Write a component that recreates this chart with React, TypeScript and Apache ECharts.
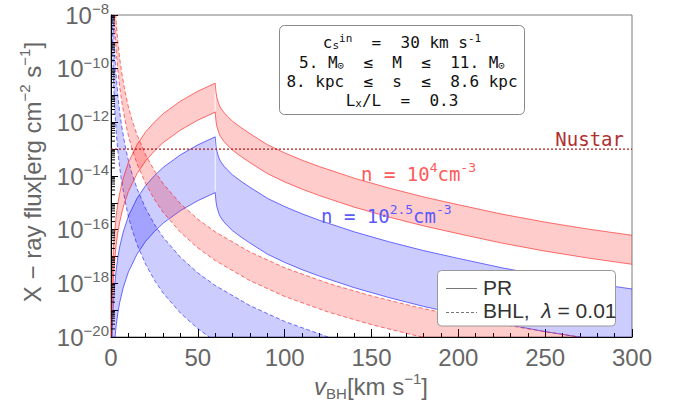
import React, { useEffect, useRef } from 'react';
import * as echarts from 'echarts';

// ---------- data (log10 of X-ray flux, erg cm^-2 s^-1) ----------
// PR model: velocities (km/s)
const prV = [0.1, 0.2, 0.3, 0.5, 0.75, 1, 1.5, 2, 3, 4, 5, 7, 10, 15, 20, 25, 30, 40, 50, 60,
  60.5, 61, 62, 63, 65, 67, 70, 75, 80, 90, 100, 110, 120, 140, 160, 180, 200, 225, 250, 275, 300];

// n = 10^4 cm^-3, PR
const redPrUpper = [-21.10, -19.95, -19.28, -18.44, -17.77, -17.30, -16.63, -16.15, -15.48, -15.01, -14.64, -14.09, -13.50, -12.83, -12.35, -11.99, -11.68, -11.21, -10.84, -10.54,
  -10.90, -11.08, -11.30, -11.45, -11.63, -11.77, -11.96, -12.20, -12.42, -12.83, -13.14, -13.41, -13.65, -14.08, -14.45, -14.78, -15.07, -15.42, -15.72, -15.98, -16.21];
const redPrLower = [-22.18, -21.03, -20.36, -19.52, -18.85, -18.38, -17.71, -17.23, -16.56, -16.09, -15.72, -15.17, -14.58, -13.91, -13.43, -13.07, -12.76, -12.29, -11.92, -11.62,
  -11.98, -12.16, -12.38, -12.53, -12.71, -12.85, -13.04, -13.28, -13.50, -13.91, -14.22, -14.49, -14.73, -15.16, -15.53, -15.86, -16.15, -16.50, -16.80, -17.06, -17.29];

// n = 10^2.5 cm^-3, PR
const bluePrUpper = [-23.10, -21.95, -21.28, -20.44, -19.77, -19.30, -18.63, -18.15, -17.48, -17.01, -16.64, -16.09, -15.50, -14.83, -14.35, -13.99, -13.68, -13.21, -12.84, -12.54,
  -12.90, -13.08, -13.30, -13.45, -13.63, -13.77, -13.96, -14.20, -14.42, -14.83, -15.14, -15.41, -15.65, -16.08, -16.45, -16.78, -17.07, -17.42, -17.72, -17.98, -18.21];
const bluePrLower = [-25.18, -24.03, -23.36, -22.52, -21.85, -21.38, -20.71, -20.23, -19.56, -19.09, -18.72, -18.17, -17.58, -16.91, -16.43, -16.07, -15.76, -15.29, -14.92, -14.62,
  -14.98, -15.16, -15.38, -15.53, -15.71, -15.85, -16.04, -16.28, -16.50, -16.91, -17.22, -17.49, -17.73, -18.16, -18.53, -18.86, -19.15, -19.50, -19.80, -20.06, -20.29];

// BHL model (lambda = 0.01)
const bhlV = [0.5, 0.75, 1, 1.5, 2, 2.5, 3, 4, 5, 6, 8, 10, 12, 15, 20, 25, 30, 40, 50, 60, 80, 100, 125, 150, 175, 200, 225, 250, 275, 300];
const redBhlUpper = [-3.61, -4.67, -5.42, -6.47, -7.22, -7.80, -8.28, -9.03, -9.61, -10.08, -10.83, -11.42, -11.89, -12.47, -13.22, -13.80, -14.28, -15.03, -15.61, -16.08, -16.83, -17.42, -18.00, -18.47, -18.87, -19.22, -19.53, -19.80, -20.05, -20.28];
const redBhlLower = [-4.68, -5.74, -6.49, -7.54, -8.29, -8.87, -9.35, -10.10, -10.68, -11.15, -11.90, -12.49, -12.96, -13.54, -14.29, -14.87, -15.35, -16.10, -16.68, -17.15, -17.90, -18.49, -19.07, -19.54, -19.94, -20.29, -20.60, -20.87, -21.12, -21.35];
const blueBhlUpper = [-5.61, -6.67, -7.42, -8.47, -9.22, -9.80, -10.28, -11.03, -11.61, -12.08, -12.83, -13.42, -13.89, -14.47, -15.22, -15.80, -16.28, -17.03, -17.61, -18.08, -18.83, -19.42, -20.00, -20.47, -20.87, -21.22, -21.53, -21.80, -22.05, -22.28];
const blueBhlLower = [-7.69, -8.75, -9.50, -10.55, -11.30, -11.88, -12.36, -13.11, -13.69, -14.16, -14.91, -15.50, -15.97, -16.55, -17.30, -17.88, -18.36, -19.11, -19.69, -20.16, -20.91, -21.50, -22.08, -22.55, -22.95, -23.30, -23.61, -23.88, -24.13, -24.36];

const prKinkV = 60;
const nustarLevel = 1e-13;
const nustarX = [0, 300];

const xTicks = { min: 0, max: 300, interval: 50 };
const yExpMin = -20;
const yExpMax = -8;

// ---------- helpers ----------
const GRAY = '#666666';
const SANS = 'Liberation Sans';
const MONO = 'DejaVu Sans Mono';

function band(xs: number[], up: number[], lo: number[], fill: string, stroke: string, dashed: boolean, seamX?: number) {
  return {
    type: 'custom',
    coordinateSystem: 'cartesian2d',
    clip: true,
    silent: true,
    data: [[150, 1e-14]],
    renderItem: (params: any, api: any) => {
      const pu = xs.map((x, i) => api.coord([x, Math.pow(10, up[i])]));
      const pl = xs.map((x, i) => api.coord([x, Math.pow(10, lo[i])]));
      const dash = dashed ? [4, 2.5] : null;
      const children: any[] = [
        { type: 'polygon', shape: { points: pu.concat(pl.slice().reverse()) }, style: { fill, stroke: null } },
      ];
      if (seamX != null) {
        const k = xs.indexOf(seamX);
        children.push({ type: 'line', shape: { x1: pu[k][0], y1: pu[k][1] + 1, x2: pl[k][0], y2: pl[k][1] - 1 }, style: { stroke: 'rgba(255,255,255,0.9)', lineWidth: 1 } });
      }
      children.push({ type: 'polyline', shape: { points: pu }, style: { stroke, lineWidth: 1, fill: null, lineDash: dash } });
      children.push({ type: 'polyline', shape: { points: pl }, style: { stroke, lineWidth: 1, fill: null, lineDash: dash } });
      return { type: 'group', children };
    },
  };
}

const minorTickVals: number[][] = [];
for (let e = yExpMin; e < yExpMax; e++) {
  for (let k = 2; k <= 9; k++) minorTickVals.push([0, k * Math.pow(10, e)]);
}

export default function App() {
  const ref = useRef<HTMLDivElement>(null);
  useEffect(() => {
    const chart = echarts.init(ref.current!, null, { renderer: 'svg' });
    const redFill = 'rgba(255,0,0,0.2)';
    const redLine = 'rgba(255,0,0,0.55)';
    const blueFill = 'rgba(0,0,255,0.2)';
    const blueLine = 'rgba(0,0,255,0.55)';

    const boxRich = {
      b: { fontSize: 16, fontFamily: MONO, lineHeight: 18, verticalAlign: 'middle' },
      sup: { fontSize: 11, fontFamily: MONO, lineHeight: 10, verticalAlign: 'top' },
      sub: { fontSize: 11, fontFamily: MONO, lineHeight: 10, verticalAlign: 'bottom' },
    };
    const labelRich = {
      b: { fontSize: 19, fontFamily: MONO, lineHeight: 26, verticalAlign: 'middle' },
      sup: { fontSize: 13, fontFamily: MONO, lineHeight: 14, verticalAlign: 'top' },
    };
    const center = { align: 'center', verticalAlign: 'middle', textAlign: 'center', textVerticalAlign: 'middle' };
    const leftMid = { align: 'left', verticalAlign: 'middle', textAlign: 'left', textVerticalAlign: 'middle' };

    const option: any = {
      animation: false,
      grid: { left: 111, right: 43, top: 15, bottom: 71, show: true, borderColor: '#7a7a7a', borderWidth: 1, backgroundColor: 'transparent' },
      xAxis: {
        type: 'value', min: xTicks.min, max: xTicks.max, interval: xTicks.interval,
        axisLine: { show: true, onZero: false, lineStyle: { color: '#000', width: 1 } },
        axisTick: { show: true, inside: true, length: 8, lineStyle: { color: '#000' } },
        minorTick: { show: true, splitNumber: 5, length: 4, lineStyle: { color: '#000' } },
        axisLabel: { color: GRAY, fontSize: 24, fontFamily: SANS, margin: 8 },
        splitLine: { show: false },
      },
      yAxis: {
        type: 'log', logBase: 10, min: Math.pow(10, yExpMin), max: Math.pow(10, yExpMax), interval: 1,
        axisLine: { show: true, lineStyle: { color: '#000', width: 1 } },
        axisTick: { show: true, inside: true, length: 7, lineStyle: { color: '#000' } },
        axisLabel: {
          margin: 2,
          formatter: (v: number) => {
            const e = Math.round(Math.log10(v));
            if (e % 2 !== 0) return '';
            return '{b|10}{s|\u2212' + (-e) + '}';
          },
          rich: {
            b: { fontSize: 24, fontFamily: SANS, color: GRAY, lineHeight: 28, verticalAlign: 'middle' },
            s: { fontSize: 15, fontFamily: SANS, color: GRAY, lineHeight: 15, verticalAlign: 'top' },
          },
        },
        splitLine: { show: false },
      },
      series: [
        band(bhlV, blueBhlUpper, blueBhlLower, blueFill, blueLine, true),
        band(prV, bluePrUpper, bluePrLower, blueFill, blueLine, false, prKinkV),
        band(bhlV, redBhlUpper, redBhlLower, redFill, redLine, true),
        band(prV, redPrUpper, redPrLower, redFill, redLine, false, prKinkV),
        {
          type: 'line', silent: true, symbol: 'none',
          data: nustarX.map((x) => [x, nustarLevel]),
          lineStyle: { color: '#b01818', width: 1.2, type: [2, 2] },
        },
        {
          type: 'custom', coordinateSystem: 'cartesian2d', silent: true, clip: false,
          data: minorTickVals,
          renderItem: (params: any, api: any) => {
            const p = api.coord([api.value(0), api.value(1)]);
            return { type: 'line', shape: { x1: p[0], y1: p[1], x2: p[0] + 4, y2: p[1] }, style: { stroke: '#000', lineWidth: 1 } };
          },
        },
      ],
      graphic: [
        // parameter box
        { type: 'rect', shape: { x: 279.5, y: 25.5, width: 245, height: 89, r: 5 }, style: { fill: '#fff', stroke: '#888', lineWidth: 1 }, z: 10 },
        { type: 'text', x: 402, y: 42, z: 11, style: { text: '{b|c}{sub|s}{sup|in}{b|  =  30 km s}{sup|-1}', ...center, fill: '#111', rich: boxRich } },
        { type: 'text', x: 402, y: 62, z: 11, style: { text: '{b|5. M}{sub|\u2299}{b|  \u2264  M  \u2264  11. M}{sub|\u2299}', ...center, fill: '#111', rich: boxRich } },
        { type: 'text', x: 402, y: 81, z: 11, style: { text: '{b|8. kpc  \u2264  s  \u2264  8.6 kpc}', ...center, fill: '#111', rich: boxRich } },
        { type: 'text', x: 402, y: 100, z: 11, style: { text: '{b|L}{sub|x}{b|/L  =  0.3}', ...center, fill: '#111', rich: boxRich } },
        // Nustar label
        { type: 'text', x: 624, y: 139, z: 11, style: { text: 'Nustar', fontSize: 19, fontFamily: MONO, align: 'right', verticalAlign: 'middle', textAlign: 'right', textVerticalAlign: 'middle', fill: '#b03030' } },
        // density labels
        { type: 'text', x: 361, y: 174, z: 11, style: { text: '{b|n = 10}{sup|4}{b|cm}{sup|-3}', ...leftMid, fill: '#ff5a5a', rich: labelRich } },
        { type: 'text', x: 321, y: 216, z: 11, style: { text: '{b|n = 10}{sup|2.5}{b|cm}{sup|-3}', ...leftMid, fill: '#5a5aff', rich: labelRich } },
        // legend
        { type: 'rect', shape: { x: 437.5, y: 270.5, width: 178, height: 55.5, r: 4 }, style: { fill: '#fff', stroke: '#999', lineWidth: 1 }, z: 10 },
        { type: 'line', shape: { x1: 446, y1: 288.5, x2: 477, y2: 288.5 }, style: { stroke: '#777', lineWidth: 1 }, z: 11 },
        { type: 'line', shape: { x1: 446, y1: 312.5, x2: 477, y2: 312.5 }, style: { stroke: '#777', lineWidth: 1, lineDash: [3, 2] }, z: 11 },
        { type: 'text', x: 483, y: 287, z: 11, style: { text: 'PR', fontSize: 21, fontFamily: SANS, fill: '#333', ...leftMid } },
        { type: 'text', x: 483, y: 310, z: 11, style: { text: '{t|BHL,  }{i|\u03bb}{t| = 0.01}', ...leftMid, fill: '#333', rich: { t: { fontSize: 21, fontFamily: SANS }, i: { fontSize: 21, fontFamily: SANS, fontStyle: 'italic' } } } },
        // axis names
        { type: 'text', x: 371, y: 386, z: 11, style: { text: '{i|v}{sub|BH}{t|[km s}{sup|\u22121}{t|]}', ...center, fill: GRAY, rich: {
          t: { fontSize: 24, fontFamily: SANS, lineHeight: 30 },
          i: { fontSize: 24, fontFamily: SANS, fontStyle: 'italic', lineHeight: 30 },
          sub: { fontSize: 15, fontFamily: SANS, lineHeight: 17, verticalAlign: 'bottom' },
          sup: { fontSize: 15, fontFamily: SANS, lineHeight: 15, verticalAlign: 'top' },
        } } },
        { type: 'text', x: 32, y: 172, rotation: Math.PI / 2, z: 11, style: { text: '{t|X \u2212 ray flux[erg cm}{sup|\u22122}{t| s}{sup|\u22121}{t|]}', ...center, fill: GRAY, rich: {
          t: { fontSize: 24, fontFamily: SANS, lineHeight: 30 },
          sup: { fontSize: 15, fontFamily: SANS, lineHeight: 15, verticalAlign: 'top' },
        } } },
      ],
    };
    chart.setOption(option);
    return () => chart.dispose();
  }, []);
  return <div ref={ref} style={{ position: 'absolute', left: 0, top: 0, width: 675, height: 408 }} />;
}
